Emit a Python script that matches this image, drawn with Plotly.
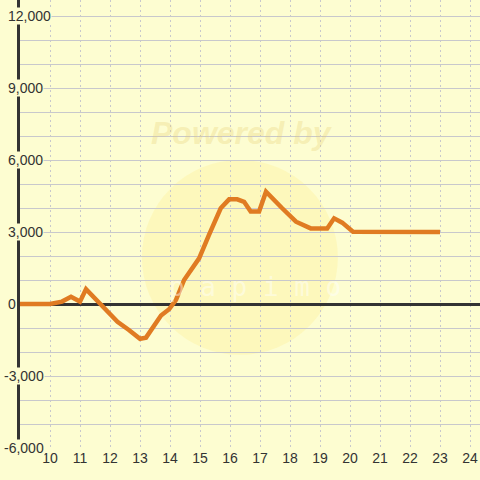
import plotly.graph_objects as go

# 折れ線データ
x_vals = [9.0, 10.0, 10.4, 10.7, 11.0, 11.2, 11.63, 11.86, 12.25, 12.63, 13.0, 13.2,
          13.7, 13.97, 14.2, 14.47, 14.97, 15.3, 15.69, 15.97, 16.24, 16.47, 16.69,
          16.97, 17.2, 17.74, 18.2, 18.69, 19.24, 19.47, 19.74, 20.1, 23.0]
y_vals = [0, 0, 100, 300, 100, 620, 60, -250, -740, -1080, -1450, -1400,
          -480, -220, 170, 1000, 1900, 2880, 3990, 4360, 4360, 4260, 3850,
          3850, 4680, 3990, 3430, 3150, 3150, 3570, 3390, 3010, 3000]

x_ticks = list(range(10, 25))
y_grid = list(range(-6000, 12001, 1000))
y_label_vals = [12000, 9000, 6000, 3000, 0, -3000, -6000]
y_label_text = ["12,000", "9,000", "6,000", "3,000", "0", "-3,000", "-6,000"]

bg = "#fdfdd1"
ink = "#333333"
orange = "#e07b22"
grid = "#c8c8cc"

fig = go.Figure()
fig.add_trace(go.Scatter(
    x=x_vals, y=y_vals, mode="lines",
    line=dict(color=orange, width=4.5),
    hoverinfo="skip", showlegend=False
))

# 透かし（Powered by ロゴ）
fig.add_shape(type="circle", xref="paper", yref="paper",
              x0=0.265, x1=0.691, y0=0.208, y1=0.643,
              fillcolor="rgba(255,225,90,0.17)", line=dict(width=0), layer="below")
fig.add_annotation(xref="paper", yref="paper", x=0.483, y=0.703,
                   xanchor="center", yanchor="middle",
                   text="Powered by", showarrow=False,
                   font=dict(family="Liberation Sans", size=32, weight="bold",
                             style="italic", color="rgba(230,205,110,0.3)"))
fig.add_annotation(xref="paper", yref="paper", x=0.51, y=0.36,
                   xanchor="center", yanchor="middle",
                   text="p a p i m o", showarrow=False,
                   font=dict(family="DejaVu Sans Mono", size=26,
                             color="rgba(255,255,255,0.45)"))

# y軸ラベル（背景付きで軸線に重なる）
for v, t in zip(y_label_vals, y_label_text):
    fig.add_annotation(xref="paper", yref="y", x=-0.0283 if v >= 0 else -0.037,
                       y=v, text=t, showarrow=False, xanchor="left",
                       bgcolor=bg, borderpad=0,
                       font=dict(family="Liberation Sans", size=14, color=ink))

fig.update_layout(
    width=480, height=480,
    margin=dict(l=20, r=0, t=0, b=32),
    paper_bgcolor=bg, plot_bgcolor=bg,
    font=dict(family="Liberation Sans", size=14, color=ink),
    xaxis=dict(range=[9, 9 + 460 / 30], tickvals=x_ticks,
               showgrid=True, gridcolor=grid, gridwidth=1, griddash="2px,3px",
               zeroline=False, showline=False, ticks="",
               tickfont=dict(size=14, color=ink)),
    yaxis=dict(range=[-6000, -6000 + 448 / 24 * 1000], tickvals=y_grid,
               showticklabels=False, showgrid=True, gridcolor=grid, gridwidth=1,
               zeroline=True, zerolinecolor=ink, zerolinewidth=3,
               showline=True, linecolor=ink, linewidth=3, ticks=""),
)

fig.write_html("out.html", config={"displayModeBar": False},
               post_script="document.body.style.margin='0';")
